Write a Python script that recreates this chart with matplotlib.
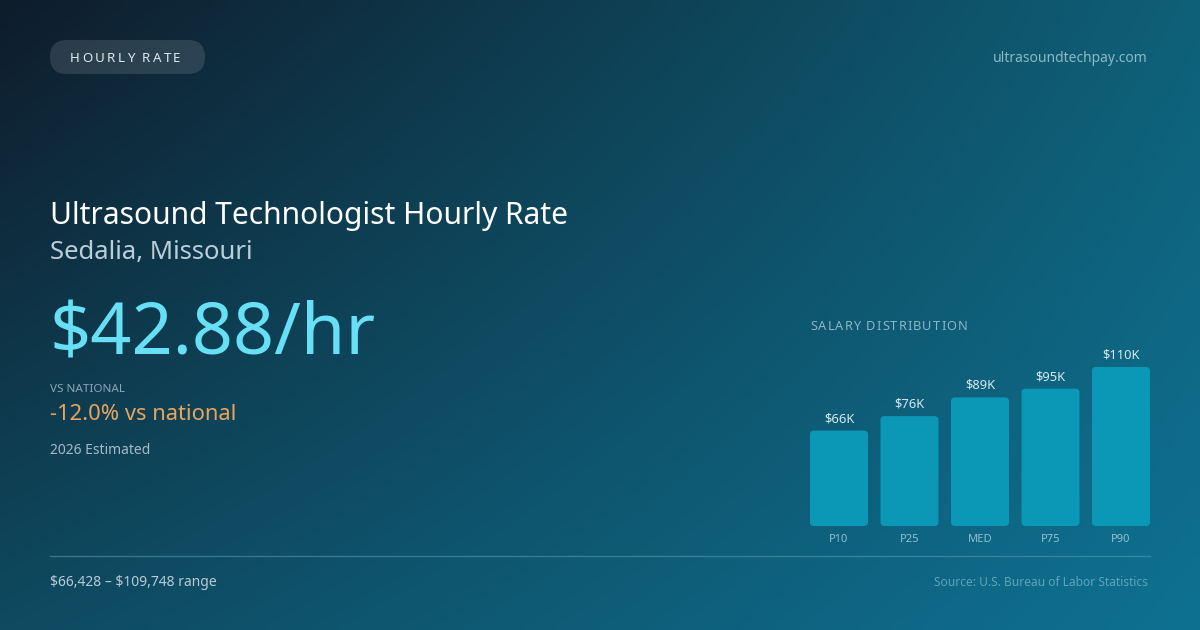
import numpy as np
import matplotlib
matplotlib.use("Agg")
from matplotlib import pyplot as plt
from matplotlib.patches import FancyBboxPatch
from matplotlib.colors import to_rgb

plt.rcParams['font.family'] = ['Noto Sans', 'DejaVu Sans']
plt.rcParams['text.parse_math'] = False

# data
labels = ["P10", "P25", "MED", "P75", "P90"]
salaries_k = [66, 76, 89, 95, 110]
value_labels = ["$66K", "$76K", "$89K", "$95K", "$110K"]

title = "Ultrasound Technologist Hourly Rate"
location = "Sedalia, Missouri"
hourly = "$42.88/hr"
vs_national = "-12.0% vs national"
range_text = "$66,428 \u2013 $109,748 range"

W, H = 1200, 630
fig = plt.figure(figsize=(W / 100, H / 100), dpi=100)

# background: bilinear gradient between the four corner colours
bg = fig.add_axes([0, 0, 1, 1])
bg.set_xlim(0, W)
bg.set_ylim(H, 0)
bg.axis("off")
tl, tr = np.array(to_rgb("#0e1c2b")), np.array(to_rgb("#0f6078"))
bl, br = np.array(to_rgb("#0f4a60")), np.array(to_rgb("#0f7192"))
xs = np.linspace(0, 1, 240)[None, :, None]
ys = np.linspace(0, 1, 126)[:, None, None]
top = tl * (1 - xs) + tr * xs
bot = bl * (1 - xs) + br * xs
img = top * (1 - ys) + bot * ys
bg.imshow(img, extent=[0, W, H, 0], aspect="auto", interpolation="bicubic", zorder=0)


def spaced(ax, x, y, s, spacing, **kw):
    # draw text with extra letter spacing (pixels)
    r = fig.canvas.get_renderer()
    for ch in s:
        t = ax.text(x, y, ch, ha="left", va="center", **kw)
        w = t.get_window_extent(renderer=r).width
        if ch == " ":
            w = kw.get("fontsize", 10) * 0.26 / 0.72
        x += w + spacing


# pill badge
pill = FancyBboxPatch((50, 40), 155, 34, boxstyle="round,pad=0,rounding_size=17",
                      fc="#ffffff", alpha=0.12, ec="none", zorder=1)
bg.add_patch(pill)
spaced(bg, 70, 58, "HOURLY RATE", 2.3, fontsize=9.6, color="#dde8ee", zorder=2)

bg.text(1148, 59, "ultrasoundtechpay.com", ha="right", va="center",
        fontsize=10, color="#8cb9c9")

bg.text(50, 216, title, ha="left", va="center", fontsize=21.6, color="#ffffff")
bg.text(50, 253, location, ha="left", va="center", fontsize=18.5, color="#b9ced9")
bg.text(50, 336, hourly, ha="left", va="center", fontsize=51.8, color="#67e0f6")
bg.text(50, 389, "VS NATIONAL", ha="left", va="center", fontsize=8.4, color="#8aa6b5")
bg.text(50, 415, vs_national, ha="left", va="center", fontsize=15.8, color="#e9a45c")
bg.text(50, 451, "2026 Estimated", ha="left", va="center", fontsize=10, color="#a5bac6")

bg.plot([50, 1150], [556, 556], color="#4f97ad", lw=1, alpha=0.6)
bg.text(50, 583, range_text, ha="left", va="center", fontsize=10, color="#b7cbd6")
bg.text(1148, 583, "Source: U.S. Bureau of Labor Statistics", ha="right", va="center",
        fontsize=8.6, color="#5fa3bb")

spaced(bg, 810, 326, "SALARY DISTRIBUTION", 1.1, fontsize=9.2, color="#8db6c7")

# bar chart, placed in pixel units (bottom at y=526, 110K reaches y=367)
ax = fig.add_axes([810 / W, (H - 526) / H, 340 / W, (526 - 367) / H])
ax.set_xlim(-0.4113, 4.4113)
ax.set_ylim(0, 110)
ax.axis("off")
ax.patch.set_alpha(0)
bw = 0.823
px_x = 340 / 4.8226
px_y = (526 - 367) / 110
for i, v in enumerate(salaries_k):
    p = FancyBboxPatch((i - bw / 2, 0), bw, v,
                       boxstyle="round,pad=0,rounding_size=%f" % (4 / px_x),
                       mutation_aspect=px_x / px_y,
                       fc="#0a98b6", ec="none", clip_on=False)
    ax.add_patch(p)
    ax.text(i, v + 12 / px_y, value_labels[i], ha="center", va="center",
            fontsize=9.3, color="#d6e9f0", clip_on=False)
    ax.text(i, -14 / px_y, labels[i], ha="center", va="center",
            fontsize=8, color="#8fc2d3", clip_on=False)

fig.savefig("out.png", dpi=100)
